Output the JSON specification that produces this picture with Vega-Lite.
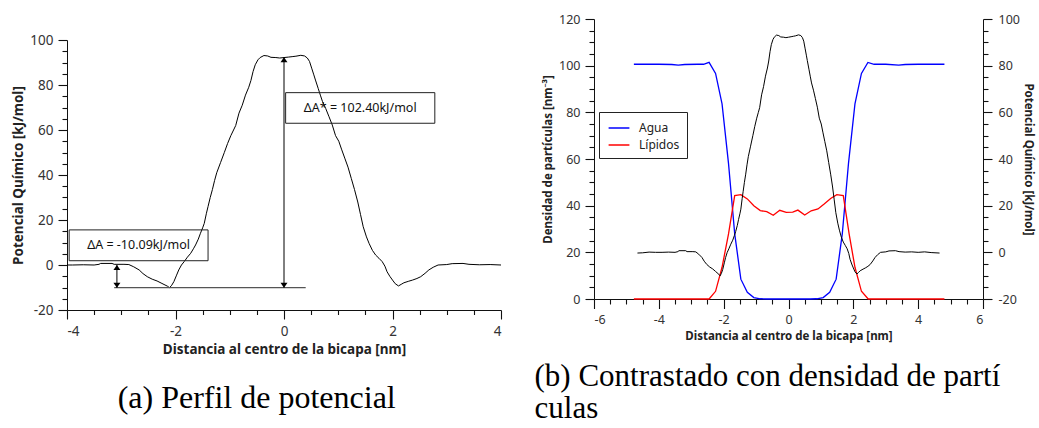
{
  "$schema": "https://vega.github.io/schema/vega-lite/v6.json",
  "padding": {"left": 11, "top": 13, "right": 3, "bottom": 0},
  "spacing": 32,
  "resolve": {"scale": {"color": "independent"}, "legend": {"color": "independent"}},
  "config": {
    "font": "Noto Sans",
    "view": {"stroke": null},
    "axis": {
      "grid": false,
      "ticks": true,
      "tickWidth": 1.1,
      "tickOpacity": 1,
      "domainColor": "#111",
      "tickColor": "#111",
      "labelColor": "#333",
      "titleColor": "#222",
      "labelFont": "Noto Sans",
      "titleFont": "Noto Sans",
      "titleFontWeight": "bold"
    }
  },
  "datasets": {
    "potential": [
      {"x": -4.66, "v": -0.3}, {"x": -4.5, "v": -0.2}, {"x": -4.3, "v": 0.1}, {"x": -4.1, "v": 0.0},
      {"x": -3.9, "v": 0.0}, {"x": -3.7, "v": 0.1}, {"x": -3.5, "v": 0.0}, {"x": -3.41, "v": 0.3},
      {"x": -3.38, "v": 0.7}, {"x": -3.17, "v": 0.7}, {"x": -3.13, "v": 0.3}, {"x": -2.95, "v": 0.3},
      {"x": -2.86, "v": 0.2}, {"x": -2.77, "v": -0.8}, {"x": -2.67, "v": -2.2}, {"x": -2.6, "v": -3.8},
      {"x": -2.52, "v": -5.2}, {"x": -2.43, "v": -6.3}, {"x": -2.34, "v": -7.1}, {"x": -2.25, "v": -8.2},
      {"x": -2.15, "v": -9.4}, {"x": -2.11, "v": -10.09}, {"x": -2.07, "v": -9.0}, {"x": -2.03, "v": -7.4},
      {"x": -1.98, "v": -4.5}, {"x": -1.94, "v": -2.2}, {"x": -1.89, "v": 0.0}, {"x": -1.84, "v": 1.5},
      {"x": -1.78, "v": 3.5}, {"x": -1.72, "v": 5.2}, {"x": -1.67, "v": 7.2}, {"x": -1.63, "v": 8.9},
      {"x": -1.58, "v": 11.5}, {"x": -1.54, "v": 14.1}, {"x": -1.5, "v": 16.5}, {"x": -1.47, "v": 18.5},
      {"x": -1.43, "v": 23}, {"x": -1.4, "v": 26}, {"x": -1.36, "v": 30}, {"x": -1.32, "v": 33.5},
      {"x": -1.28, "v": 37.5}, {"x": -1.24, "v": 41}, {"x": -1.17, "v": 45.5}, {"x": -1.1, "v": 50},
      {"x": -1.04, "v": 54}, {"x": -0.98, "v": 57.5}, {"x": -0.93, "v": 60}, {"x": -0.89, "v": 62},
      {"x": -0.83, "v": 67.5}, {"x": -0.77, "v": 71}, {"x": -0.71, "v": 75.5}, {"x": -0.65, "v": 79},
      {"x": -0.61, "v": 82}, {"x": -0.57, "v": 86}, {"x": -0.53, "v": 89}, {"x": -0.48, "v": 91.2},
      {"x": -0.44, "v": 92.2}, {"x": -0.37, "v": 93.1}, {"x": -0.3, "v": 92.9}, {"x": -0.24, "v": 92.3},
      {"x": -0.15, "v": 92.2}, {"x": -0.08, "v": 92.0}, {"x": 0.0, "v": 92.2}, {"x": 0.08, "v": 92.4},
      {"x": 0.15, "v": 92.6}, {"x": 0.22, "v": 92.8}, {"x": 0.31, "v": 93.2}, {"x": 0.38, "v": 92.9},
      {"x": 0.43, "v": 92.0}, {"x": 0.47, "v": 90.5}, {"x": 0.51, "v": 87.5}, {"x": 0.55, "v": 84.5},
      {"x": 0.58, "v": 82.2}, {"x": 0.63, "v": 78.5}, {"x": 0.67, "v": 75.5}, {"x": 0.71, "v": 72.6},
      {"x": 0.77, "v": 69.5}, {"x": 0.83, "v": 65.9}, {"x": 0.89, "v": 62.2}, {"x": 0.95, "v": 57.5},
      {"x": 1.01, "v": 55.0}, {"x": 1.06, "v": 51.5}, {"x": 1.12, "v": 47.5}, {"x": 1.18, "v": 43.5},
      {"x": 1.24, "v": 38.5}, {"x": 1.3, "v": 33.5}, {"x": 1.36, "v": 28}, {"x": 1.41, "v": 22.5},
      {"x": 1.46, "v": 17}, {"x": 1.52, "v": 12.5}, {"x": 1.57, "v": 9.5}, {"x": 1.63, "v": 6.5},
      {"x": 1.69, "v": 4.4}, {"x": 1.75, "v": 3.0}, {"x": 1.81, "v": 1.5}, {"x": 1.86, "v": -0.5},
      {"x": 1.9, "v": -3.0}, {"x": 1.95, "v": -5.0}, {"x": 2.0, "v": -6.7}, {"x": 2.05, "v": -8.3},
      {"x": 2.11, "v": -9.3}, {"x": 2.16, "v": -8.6}, {"x": 2.21, "v": -7.9}, {"x": 2.3, "v": -7.2},
      {"x": 2.37, "v": -6.7}, {"x": 2.45, "v": -6.0}, {"x": 2.52, "v": -5.2}, {"x": 2.6, "v": -3.7},
      {"x": 2.67, "v": -2.2}, {"x": 2.75, "v": -1.0}, {"x": 2.84, "v": 0.0}, {"x": 3.0, "v": 0.2},
      {"x": 3.1, "v": 0.6}, {"x": 3.3, "v": 0.7}, {"x": 3.41, "v": 0.3}, {"x": 3.6, "v": 0.1},
      {"x": 3.8, "v": 0.2}, {"x": 4.0, "v": 0.0}, {"x": 4.2, "v": 0.2}, {"x": 4.4, "v": -0.1},
      {"x": 4.66, "v": -0.3}
    ],
    "density": [
      {"x": -4.77, "d": 100.6, "s": "Agua"}, {"x": -4.4, "d": 100.6, "s": "Agua"}, {"x": -4.0, "d": 100.6, "s": "Agua"},
      {"x": -3.6, "d": 100.5, "s": "Agua"}, {"x": -3.4, "d": 100.2, "s": "Agua"}, {"x": -3.2, "d": 100.5, "s": "Agua"},
      {"x": -2.8, "d": 100.6, "s": "Agua"}, {"x": -2.62, "d": 100.6, "s": "Agua"}, {"x": -2.45, "d": 101.4, "s": "Agua"},
      {"x": -2.25, "d": 96.7, "s": "Agua"}, {"x": -2.05, "d": 83.6, "s": "Agua"}, {"x": -1.85, "d": 58, "s": "Agua"},
      {"x": -1.66, "d": 28, "s": "Agua"}, {"x": -1.47, "d": 8.5, "s": "Agua"}, {"x": -1.27, "d": 2.9, "s": "Agua"},
      {"x": -1.07, "d": 0.6, "s": "Agua"}, {"x": -0.87, "d": 0.1, "s": "Agua"}, {"x": -0.67, "d": 0, "s": "Agua"},
      {"x": 0.67, "d": 0, "s": "Agua"}, {"x": 0.87, "d": 0.1, "s": "Agua"}, {"x": 1.07, "d": 0.6, "s": "Agua"},
      {"x": 1.27, "d": 2.9, "s": "Agua"}, {"x": 1.47, "d": 8.5, "s": "Agua"}, {"x": 1.66, "d": 28, "s": "Agua"},
      {"x": 1.85, "d": 58, "s": "Agua"}, {"x": 2.05, "d": 83.6, "s": "Agua"}, {"x": 2.25, "d": 96.7, "s": "Agua"},
      {"x": 2.45, "d": 101.4, "s": "Agua"}, {"x": 2.64, "d": 100.6, "s": "Agua"}, {"x": 3.0, "d": 100.6, "s": "Agua"},
      {"x": 3.4, "d": 100.2, "s": "Agua"}, {"x": 3.6, "d": 100.5, "s": "Agua"}, {"x": 4.0, "d": 100.6, "s": "Agua"},
      {"x": 4.4, "d": 100.6, "s": "Agua"}, {"x": 4.81, "d": 100.6, "s": "Agua"},
      {"x": -4.77, "d": 0, "s": "Lípidos"}, {"x": -2.45, "d": 0, "s": "Lípidos"}, {"x": -2.25, "d": 3.3, "s": "Lípidos"},
      {"x": -2.05, "d": 13.6, "s": "Lípidos"}, {"x": -1.85, "d": 27.9, "s": "Lípidos"}, {"x": -1.66, "d": 44.3, "s": "Lípidos"},
      {"x": -1.47, "d": 44.7, "s": "Lípidos"}, {"x": -1.27, "d": 42.9, "s": "Lípidos"}, {"x": -1.07, "d": 40.0, "s": "Lípidos"},
      {"x": -0.87, "d": 37.9, "s": "Lípidos"}, {"x": -0.67, "d": 37.4, "s": "Lípidos"}, {"x": -0.47, "d": 35.9, "s": "Lípidos"},
      {"x": -0.27, "d": 38.0, "s": "Lípidos"}, {"x": -0.07, "d": 37.1, "s": "Lípidos"}, {"x": 0.13, "d": 37.2, "s": "Lípidos"},
      {"x": 0.29, "d": 38.1, "s": "Lípidos"}, {"x": 0.5, "d": 36.0, "s": "Lípidos"}, {"x": 0.7, "d": 37.8, "s": "Lípidos"},
      {"x": 0.91, "d": 38.6, "s": "Lípidos"}, {"x": 1.1, "d": 40.7, "s": "Lípidos"}, {"x": 1.3, "d": 43.1, "s": "Lípidos"},
      {"x": 1.49, "d": 44.7, "s": "Lípidos"}, {"x": 1.69, "d": 44.3, "s": "Lípidos"}, {"x": 1.87, "d": 27.9, "s": "Lípidos"},
      {"x": 2.05, "d": 13.6, "s": "Lípidos"}, {"x": 2.25, "d": 3.3, "s": "Lípidos"}, {"x": 2.46, "d": 0, "s": "Lípidos"},
      {"x": 4.81, "d": 0, "s": "Lípidos"}
    ]
  },
  "hconcat": [
    {
      "width": 434,
      "height": 291,
      "title": {"text": "(a) Perfil de potencial", "orient": "bottom", "anchor": "middle", "frame": "bounds", "font": "Liberation Serif", "fontSize": 32, "fontWeight": "normal", "color": "black", "offset": 27},
      "resolve": {"axis": {"x": "independent", "y": "independent"}},
      "layer": [
        {
          "data": {"name": "potential"},
          "mark": {"type": "line", "clip": true, "color": "black", "strokeWidth": 1},
          "encoding": {
            "x": {"field": "x", "type": "quantitative", "scale": {"domain": [-4, 4], "nice": false},
              "axis": {"orient": "bottom", "title": "Distancia al centro de la bicapa [nm]", "values": [-4, -2, 0, 2, 4], "format": "d",
                "labelExpr": "replace(datum.label, '−', '-')",
                "tickSize": 9, "labelFontSize": 13.5, "titleFontSize": 13.5, "labelPadding": 5, "titlePadding": 5}},
            "y": {"field": "v", "type": "quantitative", "scale": {"domain": [-20, 100], "nice": false, "range": [291, 21]},
              "axis": {"orient": "left", "title": "Potencial Químico [kJ/mol]", "values": [-20, 0, 20, 40, 60, 80, 100],
                "labelExpr": "replace(datum.label, '−', '-')",
                "tickSize": 9, "labelFontSize": 13.5, "titleFontSize": 13.5, "labelPadding": 5, "titlePadding": 4}}
          }
        },
        {
          "data": {"name": "potential"},
          "mark": {"type": "line", "clip": true, "opacity": 0},
          "encoding": {
            "x": {"field": "x", "type": "quantitative",
              "axis": {"orient": "bottom", "title": null, "labels": false, "domain": false, "tickSize": 4.5,
                "values": [-3.5, -3, -2.5, -1.5, -1, -0.5, 0.5, 1, 1.5, 2.5, 3, 3.5]}},
            "y": {"field": "v", "type": "quantitative",
              "axis": {"orient": "left", "title": null, "labels": false, "domain": false, "tickSize": 5,
                "values": [-15, -10, -5, 5, 10, 15, 25, 30, 35, 45, 50, 55, 65, 70, 75, 85, 90, 95]}}
          }
        },
        {
          "data": {"values": [{"x": -3.13, "x2": 0.4, "y": -10.09}]},
          "mark": {"type": "rule", "color": "#555", "strokeWidth": 1.3},
          "encoding": {"x": {"field": "x", "type": "quantitative", "axis": null}, "x2": {"field": "x2"}, "y": {"field": "y", "type": "quantitative", "axis": null}}
        },
        {
          "data": {"values": [{"x": -3.08, "y": 0, "y2": -10.09}, {"x": 0, "y": 92.31, "y2": -10.09}]},
          "mark": {"type": "rule", "color": "black", "strokeWidth": 1},
          "encoding": {"x": {"field": "x", "type": "quantitative", "axis": null}, "y": {"field": "y", "type": "quantitative", "axis": null}, "y2": {"field": "y2"}}
        },
        {
          "data": {"values": [{"x": -3.08, "y": 0, "dir": "up"}, {"x": -3.08, "y": -10.09, "dir": "down"}, {"x": 0, "y": 92.31, "dir": "up"}, {"x": 0, "y": -10.09, "dir": "down"}]},
          "mark": {"type": "point", "filled": true, "color": "black", "opacity": 1, "size": 100},
          "encoding": {
            "x": {"field": "x", "type": "quantitative", "axis": null},
            "y": {"field": "y", "type": "quantitative", "axis": null},
            "shape": {"field": "dir", "type": "nominal", "scale": {"domain": ["up", "down"], "range": ["M0,0L-0.7,1L0.7,1Z", "M0,0L-0.7,-1L0.7,-1Z"]}, "legend": null}
          }
        },
        {
          "data": {"values": [{"x": -3.96, "x2": -1.4, "y": 15.6, "y2": 1.9}, {"x": 0.03, "x2": 2.78, "y": 76.6, "y2": 63.0}]},
          "mark": {"type": "rect", "fill": null, "fillOpacity": 0, "stroke": "#222", "strokeWidth": 1},
          "encoding": {"x": {"field": "x", "type": "quantitative", "axis": null}, "x2": {"field": "x2"}, "y": {"field": "y", "type": "quantitative", "axis": null}, "y2": {"field": "y2"}}
        },
        {
          "data": {"values": [{"x": -2.68, "y": 8.75, "t": "ΔA = -10.09kJ/mol"}, {"x": 1.405, "y": 69.8, "t": "ΔA* = 102.40kJ/mol"}]},
          "mark": {"type": "text", "font": "Noto Sans", "fontSize": 12.5, "color": "#111", "align": "center", "baseline": "middle"},
          "encoding": {"x": {"field": "x", "type": "quantitative", "axis": null}, "y": {"field": "y", "type": "quantitative", "axis": null}, "text": {"field": "t"}}
        }
      ]
    },
    {
      "width": 389,
      "height": 280,
      "title": {"text": ["(b) Contrastado con densidad de partí", "culas"], "orient": "bottom", "anchor": "start", "frame": "bounds", "font": "Liberation Serif", "fontSize": 31, "fontWeight": "normal", "color": "black", "offset": 20, "lineHeight": 32, "dx": -8},
      "resolve": {"scale": {"y": "independent"}, "axis": {"x": "independent", "y": "independent"}},
      "layer": [
        {
          "data": {"name": "density"},
          "mark": {"type": "line", "strokeWidth": 1.3},
          "encoding": {
            "x": {"field": "x", "type": "quantitative", "scale": {"domain": [-6, 6], "nice": false},
              "axis": {"orient": "bottom", "title": "Distancia al centro de la bicapa [nm]", "values": [-6, -4, -2, 0, 2, 4, 6], "format": "d",
                "labelExpr": "replace(datum.label, '−', '-')",
                "tickSize": 9.5, "labelFontSize": 12.5, "titleFontSize": 11.5, "labelPadding": 5, "titlePadding": 4}},
            "y": {"field": "d", "type": "quantitative", "scale": {"domain": [0, 120], "nice": false},
              "axis": {"orient": "left", "title": "Densidad de partículas [nm⁻³]", "values": [0, 20, 40, 60, 80, 100, 120],
                "tickSize": 9, "labelFontSize": 12.5, "titleFontSize": 11.5, "labelPadding": 5, "titlePadding": 5}},
            "color": {"field": "s", "type": "nominal", "scale": {"domain": ["Agua", "Lípidos"], "range": ["#0000ff", "#ff0000"]},
              "legend": {"orient": "none", "legendX": 5, "legendY": 93, "title": null, "fillColor": "white", "strokeColor": "#222", "padding": 7, "symbolOffset": 4, "symbolType": "M-1.3,0L1.3,0", "symbolSize": 256, "symbolStrokeWidth": 1.5, "labelFontSize": 12, "labelColor": "#222", "labelOffset": 11, "rowPadding": 2}}
          }
        },
        {
          "data": {"name": "potential"},
          "mark": {"type": "line", "color": "black", "strokeWidth": 1},
          "encoding": {
            "x": {"field": "x", "type": "quantitative", "axis": null},
            "y": {"field": "v", "type": "quantitative", "scale": {"domain": [-20, 100], "nice": false},
              "axis": {"orient": "right", "title": "Potencial Químico [kJ/mol]", "values": [-20, 0, 20, 40, 60, 80, 100],
                "labelExpr": "replace(datum.label, '−', '-')",
                "tickSize": 9, "labelFontSize": 12.5, "titleFontSize": 11.5, "labelPadding": 6, "titlePadding": 3}}
          }
        },
        {
          "data": {"name": "density"},
          "mark": {"type": "line", "opacity": 0},
          "encoding": {
            "x": {"field": "x", "type": "quantitative",
              "axis": {"orient": "bottom", "title": null, "labels": false, "domain": false, "tickSize": 5,
                "values": [-5.5, -5, -4.5, -3.5, -3, -2.5, -1.5, -1, -0.5, 0.5, 1, 1.5, 2.5, 3, 3.5, 4.5, 5, 5.5]}},
            "y": {"field": "d", "type": "quantitative", "scale": {"domain": [0, 120], "nice": false},
              "axis": {"orient": "left", "title": null, "labels": false, "domain": false, "tickSize": 5,
                "values": [5, 10, 15, 25, 30, 35, 45, 50, 55, 65, 70, 75, 85, 90, 95, 105, 110, 115]}}
          }
        },
        {
          "data": {"name": "potential"},
          "mark": {"type": "line", "opacity": 0},
          "encoding": {
            "x": {"field": "x", "type": "quantitative", "axis": null},
            "y": {"field": "v", "type": "quantitative", "scale": {"domain": [-20, 100], "nice": false},
              "axis": {"orient": "right", "title": null, "labels": false, "domain": false, "tickSize": 5,
                "values": [-15, -10, -5, 5, 10, 15, 25, 30, 35, 45, 50, 55, 65, 70, 75, 85, 90, 95]}}
          }
        }
      ]
    }
  ]
}
